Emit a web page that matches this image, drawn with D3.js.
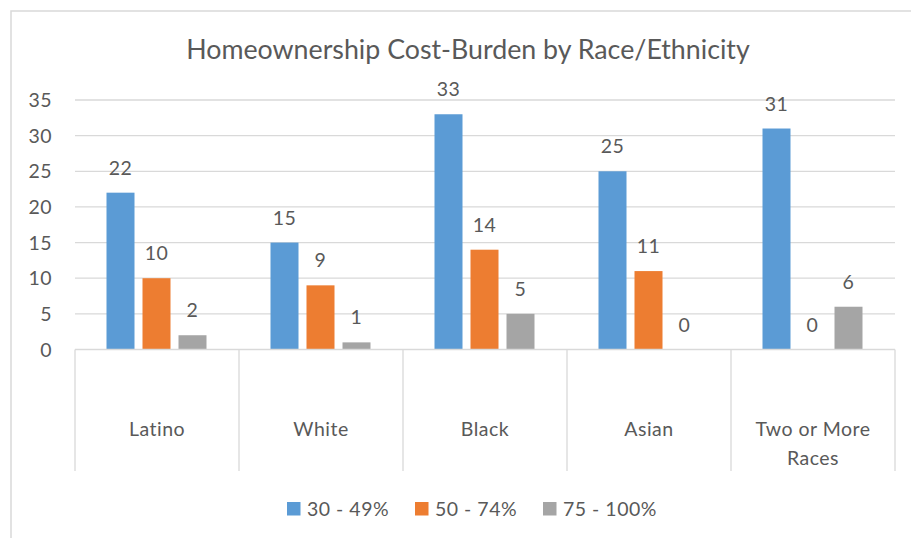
<!DOCTYPE html>
<html><head><meta charset="utf-8">
<script src="https://cdn.jsdelivr.net/npm/d3@7"></script>
<style>body{margin:0;background:#fff}svg{display:block}text{font-family:Lato,"Open Sans",sans-serif;fill:#595959}
.lbl{font-size:19.5px;letter-spacing:0.5px}</style>
</head><body><svg id="c" width="911" height="538"></svg>
<script>
const categories = ["Latino", "White", "Black", "Asian", "Two or More Races"];
const seriesNames = ["30 - 49%", "50 - 74%", "75 - 100%"];
const s30_49 = [22, 15, 33, 25, 31];
const s50_74 = [10, 9, 14, 11, 0];
const s75_100 = [2, 1, 5, 0, 6];
const yTicks = [0, 5, 10, 15, 20, 25, 30, 35];
const title = "Homeownership Cost-Burden by Race/Ethnicity";
const colors = ["#5B9BD5", "#ED7D31", "#A5A5A5"];

(function() {
const series = [s30_49, s50_74, s75_100];
const svg = d3.select("#c");
const W = 911, H = 538;
const pLeft = 75, pRight = 895, pTop = 100, pBottom = 349.5;

// outer border
svg.append("rect").attr("x", 11).attr("y", 11).attr("width", W + 20).attr("height", H + 20)
  .attr("fill", "none").attr("stroke", "#D9D9D9").attr("stroke-width", 1.5);

// title fit to width
const t = svg.append("text").attr("x", (186 + 750) / 2).attr("y", 59).attr("text-anchor", "middle")
  .style("font-size", "24px").text(title);
const tw = t.node().getComputedTextLength();
t.style("font-size", (24 * 564 / tw) + "px");

const x = d3.scaleBand().domain(categories).range([pLeft, pRight]).paddingInner(0).paddingOuter(0);
const xs = d3.scaleBand().domain(d3.range(3)).range([31.5, 31.5 + 100]).paddingInner(8 / 36).paddingOuter(0);
const y = d3.scaleLinear().domain([0, 35]).range([pBottom, pTop]);

// gridlines
svg.append("g").selectAll("line").data(yTicks.filter(d => d > 0)).join("line")
  .attr("x1", pLeft).attr("x2", pRight).attr("y1", d => y(d)).attr("y2", d => y(d))
  .attr("stroke", "#D9D9D9").attr("stroke-width", 1.3);

// y labels
svg.append("g").selectAll("text").data(yTicks).join("text").attr("class", "lbl")
  .attr("x", 52).attr("y", d => y(d)).attr("dy", "0.36em").attr("text-anchor", "end")
  .text(d => d);

// bars
const g = svg.append("g");
series.forEach((vals, si) => {
  g.selectAll(".b" + si).data(categories).join("rect").attr("class", "b" + si)
    .attr("x", c => x(c) + xs(si)).attr("width", xs.bandwidth())
    .attr("y", (c, i) => y(vals[i])).attr("height", (c, i) => pBottom - y(vals[i]))
    .attr("fill", colors[si]);
  g.selectAll(".l" + si).data(categories).join("text").attr("class", "lbl l" + si)
    .attr("x", c => x(c) + xs(si) + xs.bandwidth() / 2)
    .attr("y", (c, i) => y(vals[i]) - 18)
    .attr("text-anchor", "middle")
    .text((c, i) => vals[i]);
});

// category axis
svg.append("line").attr("x1", pLeft).attr("x2", pRight).attr("y1", pBottom).attr("y2", pBottom)
  .attr("stroke", "#D9D9D9").attr("stroke-width", 1.3);
const divs = categories.map(c => x(c)).concat([pRight]);
svg.append("g").selectAll("line").data(divs).join("line")
  .attr("x1", d => d).attr("x2", d => d).attr("y1", pBottom).attr("y2", 471)
  .attr("stroke", "#D9D9D9").attr("stroke-width", 1.3);

svg.append("g").selectAll("text").data(categories).join("text").attr("class", "lbl")
  .attr("x", c => x(c) + x.bandwidth() / 2).attr("text-anchor", "middle")
  .each(function(c) {
    const lines = c === "Two or More Races" ? ["Two or More", "Races"] : [c];
    const el = d3.select(this);
    lines.forEach((ln, i) => el.append("tspan").attr("x", x(c) + x.bandwidth() / 2)
      .attr("y", 436 + i * 28.5).text(ln));
  });

// legend
const legX = [287, 415, 543];
const lg = svg.append("g");
seriesNames.forEach((n, i) => {
  lg.append("rect").attr("x", legX[i]).attr("y", 502).attr("width", 13.5).attr("height", 13.5).attr("fill", colors[i]);
  lg.append("text").attr("class", "lbl").attr("x", legX[i] + 20).attr("y", 515.5).text(n);
});
})();
</script></body></html>
